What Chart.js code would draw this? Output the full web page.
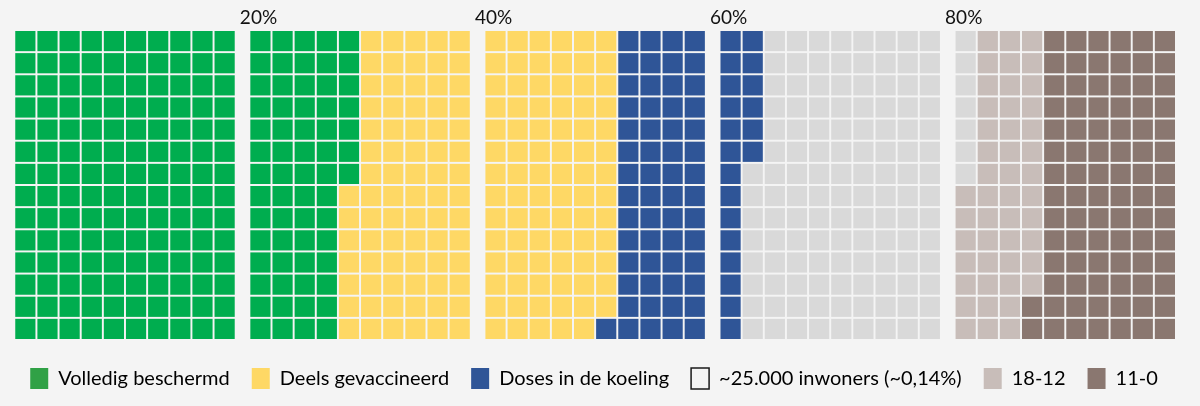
<!DOCTYPE html>
<html>
<head>
<meta charset="utf-8">
<script src="https://cdn.jsdelivr.net/npm/chart.js@4/dist/chart.umd.min.js"></script>
<style>
html,body{margin:0;padding:0;background:#f4f4f4;}
#wrap{width:1200px;height:406px;position:relative;}
</style>
</head>
<body>
<div id="wrap"><canvas id="c"></canvas></div>
<script>
// ---- data ----
const categories = ['Volledig beschermd','Deels gevaccineerd','Doses in de koeling','Niet gevaccineerd','18-12','11-0'];
const cellCounts = [203, 160, 77, 127, 47, 86];          // cells of ~25.000 inwoners each (700 total)
const cellColors = ['#00ad4f','#fed865','#2f5597','#d9d9d9','#c8bdb9','#8a7770'];
const legendSwatches = ['#30a146','#fed865','#2f5597',null,'#c8bdb9','#8a7770'];
const unitLabel = '~25.000 inwoners (~0,14%)';
const columnAges = [86,83,78,75,73,71,69,68,66,64,
                    63,61,60,58,57,56,54,53,52,50,
                    49,47,46,44,42,41,39,37,36,34,
                    32,31,29,28,26,25,23,21,20,18,
                    17,15,13,11,9,7,5,3,1,0];
const percentLabels = ['20%','40%','60%','80%'];

// ---- waffle structure ----
const ROWS = 14, COLS_PER_BLOCK = 10, BLOCKS = 5, BLOCK_GAP = 0.617;
const colX = c => c + Math.floor(c / COLS_PER_BLOCK) * BLOCK_GAP;
const totalCols = COLS_PER_BLOCK * BLOCKS;
const xMin = -0.5, xMax = colX(totalCols - 1) + 0.5;
const colTicks = columnAges.map((a, c) => colX(c));
const pctTicks = percentLabels.map((p, i) => {
  const k = i + 1;
  return COLS_PER_BLOCK * k - 0.5 + (k - 0.5) * BLOCK_GAP - 0.12;
});

let idx = 0;
const datasets = categories.map((name, k) => {
  const data = [];
  for (let j = 0; j < cellCounts[k]; j++, idx++) {
    data.push({x: colX(Math.floor(idx / ROWS)), y: idx % ROWS});
  }
  return {
    label: name, data,
    backgroundColor: cellColors[k], borderWidth: 0,
    pointStyle: 'rect', pointRadius: 14.28, pointHoverRadius: 14.28,
    clip: false
  };
});

const FONT = 'Lato, "Noto Sans", sans-serif';

new Chart(document.getElementById('c'), {
  type: 'scatter',
  data: {datasets},
  options: {
    responsive: true, maintainAspectRatio: false, animation: false, events: [],
    layout: {padding: {left: 0, right: 12, top: 0, bottom: 7}},
    scales: {
      x: {
        type: 'linear', position: 'bottom', min: xMin, max: xMax,
        grid: {display: false, drawTicks: false}, border: {display: false},
        afterBuildTicks: s => { s.ticks = colTicks.map(v => ({value: v})); },
        afterFit: s => { s.height = 6; },
        ticks: {autoSkip: false, maxRotation: 0, padding: 6, color: '#e7e7e7',
                font: {family: FONT, size: 11},
                callback: (v, i) => String(columnAges[i])}
      },
      x2: {
        type: 'linear', position: 'top', min: xMin, max: xMax,
        grid: {display: false, drawTicks: false}, border: {display: false},
        afterBuildTicks: s => { s.ticks = pctTicks.map(v => ({value: v})); },
        afterFit: s => { s.height = 30; },
        ticks: {autoSkip: false, maxRotation: 0, padding: 1, align: 'start', color: '#111',
                font: {family: FONT, size: 19},
                callback: (v, i) => percentLabels[i]}
      },
      y: {
        type: 'linear', position: 'left', min: -0.5, max: ROWS - 0.5, reverse: true,
        grid: {display: false, drawTicks: false}, border: {display: false},
        ticks: {display: false},
        afterFit: s => { s.width = 12; }
      },
      yR: {
        type: 'linear', position: 'right', min: 0, max: 1,
        grid: {display: false, drawTicks: false}, border: {display: false},
        ticks: {display: false},
        afterFit: s => { s.width = 12; }
      }
    },
    plugins: {
      tooltip: {enabled: false},
      legend: {
        position: 'bottom',
        labels: {
          font: {family: FONT, size: 20}, color: '#111',
          boxWidth: 18, boxHeight: 21, padding: 22,
          generateLabels: () => categories.map((name, i) => legendSwatches[i] === null
            ? {text: unitLabel, fillStyle: 'rgba(0,0,0,0)', strokeStyle: '#1a1a1a', lineWidth: 1.5, hidden: false, datasetIndex: i}
            : {text: name, fillStyle: legendSwatches[i], strokeStyle: legendSwatches[i], lineWidth: 0, hidden: false, datasetIndex: i})
        }
      }
    }
  }
});
</script>
</body>
</html>
